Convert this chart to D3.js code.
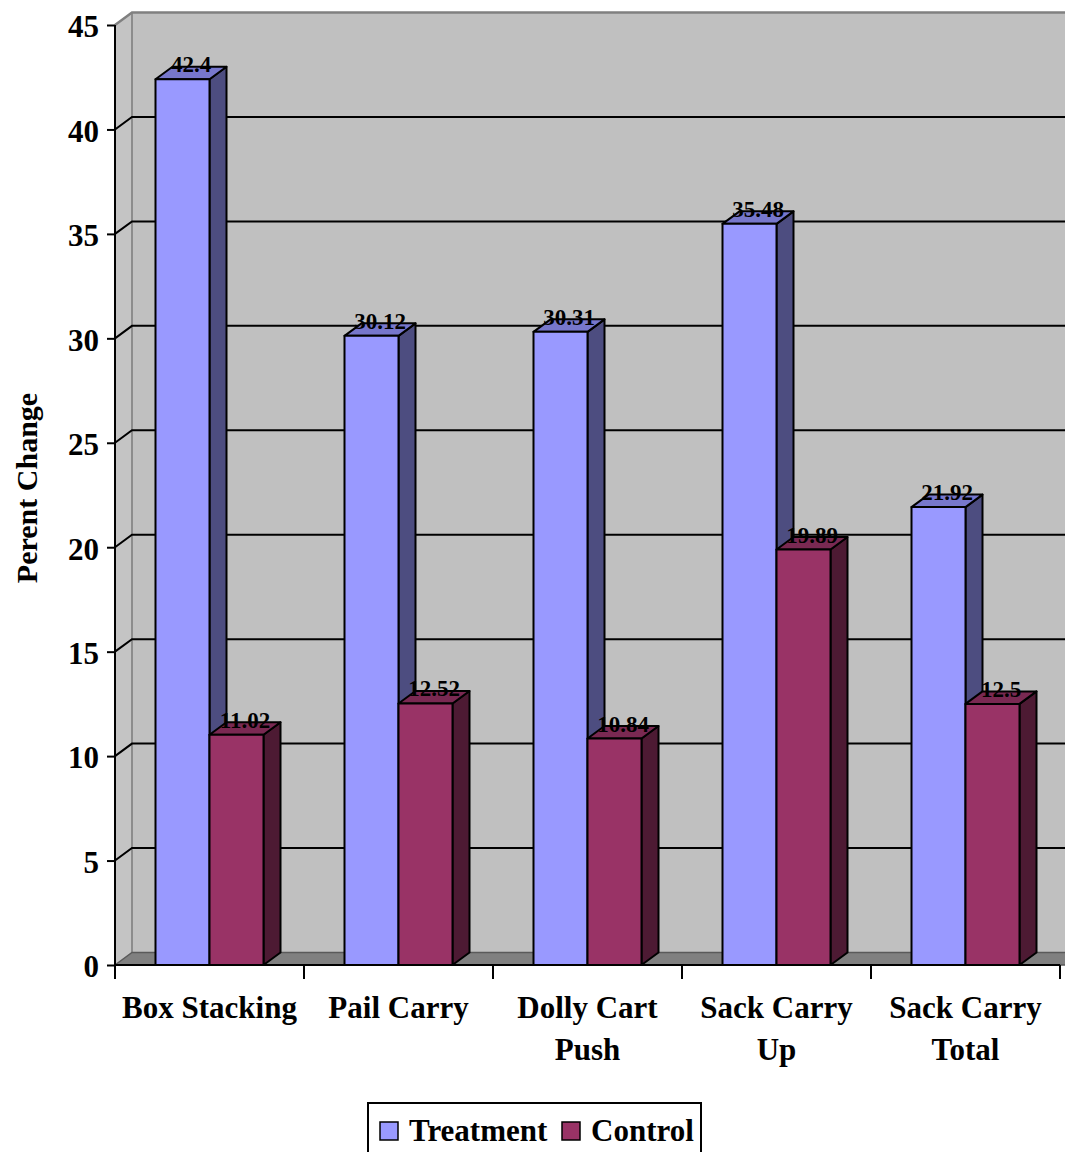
<!DOCTYPE html>
<html>
<head>
<meta charset="utf-8">
<script src="https://cdn.jsdelivr.net/npm/d3@7"></script>
<style>
  html, body { margin: 0; padding: 0; background: #fff; }
  svg { display: block; }
  text { font-family: "Liberation Serif", "Times New Roman", serif; font-weight: bold; }
</style>
</head>
<body>
<div id="chart"></div>
<script>
// Percent change per task, treatment vs control
const categories = [["Box Stacking"], ["Pail Carry"], ["Dolly Cart", "Push"], ["Sack Carry", "Up"], ["Sack Carry", "Total"]];
const seriesNames = ["Treatment", "Control"];
const treatment = [42.4, 30.12, 30.31, 35.48, 21.92];
const control = [11.02, 12.52, 10.84, 19.89, 12.5];
const yTicks = [0, 5, 10, 15, 20, 25, 30, 35, 40, 45];

const W = 1065, H = 1152;
const DX = 17, DY = -12.5; // depth offset of the 3D box

const svg = d3.select("#chart").append("svg").attr("width", W).attr("height", H);

const x = d3.scaleBand().domain(d3.range(categories.length)).range([115, 1060]).paddingInner(0).paddingOuter(0);
const y = d3.scaleLinear().domain([0, 45]).range([965, 25]);
const inner = d3.scaleBand().domain(seriesNames).range([0, x.bandwidth()]).paddingInner(0).paddingOuter(0.75);

const colors = {
  Treatment: { front: "#9999ff", top: "#7777cc", side: "#4d4d80" },
  Control:   { front: "#993366", top: "#7a2952", side: "#4d1a33" }
};

const x0 = x.range()[0], x1 = x.range()[1];
const yTop = y(45), yBase = y(0);

// Back wall
svg.append("polygon")
  .attr("points", [[x0 + DX, yTop + DY], [x1 + DX + 30, yTop + DY], [x1 + DX + 30, yBase + DY], [x0 + DX, yBase + DY]].join(" "))
  .attr("fill", "#c0c0c0");
// Left side wall
svg.append("polygon")
  .attr("points", [[x0, yTop], [x0 + DX, yTop + DY], [x0 + DX, yBase + DY], [x0, yBase]].join(" "))
  .attr("fill", "#c4c4c4");
// Wall edges
svg.append("line").attr("x1", x0 + DX).attr("x2", x0 + DX).attr("y1", yTop + DY).attr("y2", yBase + DY)
  .attr("stroke", "#8c8c8c").attr("stroke-width", 2);
svg.append("polyline")
  .attr("points", [[x0, yTop], [x0 + DX, yTop + DY], [W + 10, yTop + DY]].join(" "))
  .attr("fill", "none").attr("stroke", "#808080").attr("stroke-width", 2.5);

// Gridlines on side and back walls
svg.append("g").selectAll("polyline")
  .data(yTicks.filter(v => v > 0 && v < 45))
  .join("polyline")
  .attr("points", v => [[x0, y(v)], [x0 + DX, y(v) + DY], [W + 10, y(v) + DY]].join(" "))
  .attr("fill", "none").attr("stroke", "#000").attr("stroke-width", 2);

// Floor
svg.append("polygon")
  .attr("points", [[x0, yBase], [x0 + DX, yBase + DY], [x1 + DX + 30, yBase + DY], [x1 + 30, yBase]].join(" "))
  .attr("fill", "#808080").attr("stroke", "#5a5a5a").attr("stroke-width", 1.5);

// Bars as 3D boxes
const bars = svg.append("g");
categories.forEach((c, i) => {
  seriesNames.forEach((s, j) => {
    const v = j === 0 ? treatment[i] : control[i];
    const bx = x(i) + inner(s), bw = inner.bandwidth();
    const yt = y(v), yb = y(0);
    const col = colors[s];
    const g = bars.append("g").attr("stroke", "#000").attr("stroke-width", 2).attr("stroke-linejoin", "round");
    g.append("polygon")
      .attr("points", [[bx + bw, yt], [bx + bw + DX, yt + DY], [bx + bw + DX, yb + DY], [bx + bw, yb]].join(" "))
      .attr("fill", col.side);
    g.append("polygon")
      .attr("points", [[bx, yt], [bx + DX, yt + DY], [bx + bw + DX, yt + DY], [bx + bw, yt]].join(" "))
      .attr("fill", col.top);
    g.append("rect")
      .attr("x", bx).attr("y", yt).attr("width", bw).attr("height", yb - yt)
      .attr("fill", col.front);
  });
});

// Value labels
const labels = svg.append("g");
categories.forEach((c, i) => {
  seriesNames.forEach((s, j) => {
    const v = j === 0 ? treatment[i] : control[i];
    labels.append("text")
      .attr("x", x(i) + inner(s) + inner.bandwidth() / 2 + DX / 2)
      .attr("y", y(v) - 7)
      .attr("text-anchor", "middle")
      .attr("font-size", 23)
      .attr("fill", "#000")
      .text(v);
  });
});

// Y axis
const yAxis = d3.axisLeft(y).tickValues(yTicks).tickSize(8).tickPadding(8).tickFormat(d3.format("d"));
const ya = svg.append("g").attr("transform", `translate(${x0},0)`).call(yAxis);
ya.select(".domain").attr("d", `M0,${yTop}V${yBase + 12}`).attr("stroke", "#000").attr("stroke-width", 2);
ya.selectAll(".tick line").attr("stroke", "#000").attr("stroke-width", 2);
ya.selectAll(".tick text").attr("font-size", 31).attr("font-family", "Liberation Serif, serif")
  .attr("font-weight", "bold").attr("fill", "#000").attr("dy", "0.38em");

// X axis
svg.append("line").attr("x1", x0).attr("x2", x1).attr("y1", yBase).attr("y2", yBase)
  .attr("stroke", "#000").attr("stroke-width", 2);
svg.append("g").selectAll("line")
  .data(d3.range(categories.length + 1))
  .join("line")
  .attr("x1", i => x0 + i * x.bandwidth()).attr("x2", i => x0 + i * x.bandwidth())
  .attr("y1", yBase).attr("y2", yBase + 14)
  .attr("stroke", "#000").attr("stroke-width", 2);
const xl = svg.append("g");
categories.forEach((c, i) => {
  const t = xl.append("text")
    .attr("x", x(i) + x.bandwidth() / 2).attr("y", 1018)
    .attr("text-anchor", "middle").attr("font-size", 31).attr("fill", "#000");
  c.forEach((line, k) => {
    t.append("tspan").attr("x", x(i) + x.bandwidth() / 2).attr("dy", k === 0 ? 0 : 42).text(line);
  });
});

// Y axis title
svg.append("text")
  .attr("transform", "translate(37,488) rotate(-90)")
  .attr("text-anchor", "middle").attr("font-size", 30).attr("fill", "#000")
  .text("Perent Change");

// Legend
const lg = svg.append("g");
lg.append("rect").attr("x", 368).attr("y", 1103).attr("width", 333).attr("height", 70)
  .attr("fill", "#fff").attr("stroke", "#000").attr("stroke-width", 2);
const legendX = [380, 562];
seriesNames.forEach((s, j) => {
  lg.append("rect").attr("x", legendX[j]).attr("y", 1122).attr("width", 18).attr("height", 18)
    .attr("fill", colors[s].front).attr("stroke", "#000").attr("stroke-width", 1.5);
  lg.append("text").attr("x", legendX[j] + 29).attr("y", 1141)
    .attr("font-size", 31).attr("fill", "#000").text(s);
});
</script>
</body>
</html>
